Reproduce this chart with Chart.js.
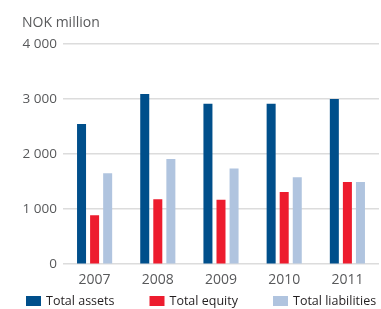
<!DOCTYPE html>
<html>
<head>
<meta charset="utf-8">
<script src="https://cdn.jsdelivr.net/npm/chart.js@4/dist/chart.umd.min.js"></script>
<style>
    html, body { margin: 0; padding: 0; background: #fff; }
    #wrap { width: 381px; height: 309px; position: relative; }
</style>
</head>
<body>
<div id="wrap"><canvas id="chart"></canvas></div>
<script>
    "use strict";

    const years = ["2007", "2008", "2009", "2010", "2011"];
    const totalAssets = [2545, 3090, 2910, 2910, 3000];
    const totalEquity = [890, 1180, 1170, 1310, 1490];
    const totalLiabilities = [1650, 1910, 1735, 1580, 1490];
    const yTicks = [0, 1000, 2000, 3000, 4000];

    const textColor = "#58595b";
    const fontFamily = "'Open Sans', sans-serif";

    const fmt = (v) => String(v).replace(/\B(?=(\d{3})+(?!\d))/g, " ");

    // Legend drawn in a row of equal slots below the axis
    const bottomLegend = {
        id: "bottomLegend",
        afterDraw(chart) {
            const c = chart.ctx;
            const y = 301;
            c.save();
            c.font = "12.5px " + fontFamily;
            c.textBaseline = "middle";
            chart.data.datasets.forEach((ds, i) => {
                const x = 26 + i * 123.5;
                c.fillStyle = ds.backgroundColor;
                c.fillRect(x, y - 5, 15, 10);
                c.fillStyle = "#231f20";
                c.fillText(ds.label, x + 20, y);
            });
            c.restore();
        },
    };

    const ctx = document.getElementById("chart").getContext("2d");

    new Chart(ctx, {
        type: "bar",
        data: {
            labels: years,
            datasets: [
                { label: "Total assets", data: totalAssets, backgroundColor: "#004f8b" },
                { label: "Total equity", data: totalEquity, backgroundColor: "#ed1c2e" },
                { label: "Total liabilities", data: totalLiabilities, backgroundColor: "#b0c4df" },
            ],
        },
        plugins: [bottomLegend],
        options: {
            responsive: true,
            maintainAspectRatio: false,
            animation: false,
            layout: { padding: { left: 22, right: 2, top: 15, bottom: 14 } },
            datasets: {
                bar: { categoryPercentage: 0.62, barPercentage: 0.69 },
            },
            plugins: {
                title: {
                    display: true,
                    text: "NOK million",
                    align: "start",
                    color: textColor,
                    font: { family: fontFamily, size: 14, weight: "normal" },
                    padding: { top: 0, bottom: 12 },
                },
                legend: { display: false },
                tooltip: { enabled: false },
            },
            scales: {
                x: {
                    grid: { display: false, drawTicks: false },
                    border: { display: false },
                    ticks: {
                        color: textColor,
                        padding: 7,
                        font: { family: fontFamily, size: 14 },
                    },
                },
                y: {
                    min: 0,
                    max: 4000,
                    afterBuildTicks: (axis) => {
                        axis.ticks = yTicks.map((v) => ({ value: v }));
                    },
                    afterFit: (axis) => {
                        axis.width = 41;
                    },
                    grid: { color: "#dcdcdc", lineWidth: 1.5, drawTicks: false },
                    border: { display: false },
                    ticks: {
                        color: textColor,
                        padding: 6,
                        font: { family: fontFamily, size: 13.5 },
                        callback: (v) => fmt(v),
                    },
                },
            },
        },
    });
</script>
</body>
</html>
